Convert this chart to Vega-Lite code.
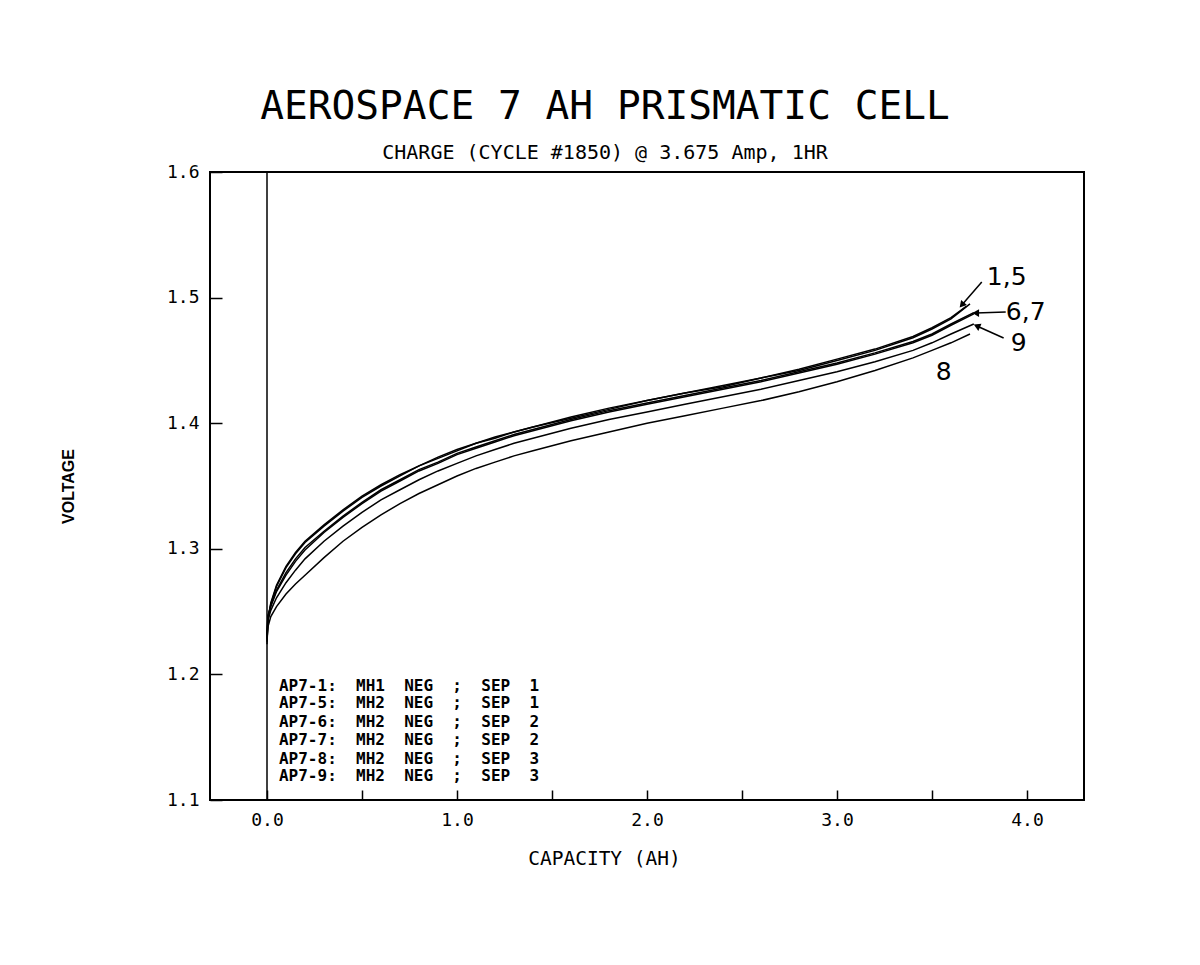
{
  "$schema": "https://vega.github.io/schema/vega-lite/v6.json",
  "width": 874,
  "height": 628,
  "autosize": {"type": "none"},
  "padding": {"left": 210, "top": 172, "right": 116, "bottom": 165},
  "background": "white",
  "title": {
    "text": "AEROSPACE 7 AH PRISMATIC CELL",
    "subtitle": "CHARGE (CYCLE #1850) @ 3.675 Amp, 1HR",
    "anchor": "middle",
    "dx": -42,
    "font": "DejaVu Sans Mono",
    "fontSize": 39.5,
    "fontWeight": "normal",
    "color": "black",
    "subtitleFont": "DejaVu Sans Mono",
    "subtitleFontSize": 20,
    "subtitleColor": "black",
    "subtitlePadding": 16,
    "offset": -1
  },
  "config": {
    "view": {"stroke": "black", "strokeWidth": 2},
    "axis": {"grid": false, "domain": false, "labelColor": "black", "titleColor": "black", "tickColor": "black"}
  },
  "datasets": {
    "curves": [
      {"cell": "AP7-1", "cap": 0, "v": 1.226}, {"cell": "AP7-1", "cap": 0.005, "v": 1.244}, {"cell": "AP7-1", "cap": 0.02, "v": 1.257}, {"cell": "AP7-1", "cap": 0.05, "v": 1.271}, {"cell": "AP7-1", "cap": 0.1, "v": 1.286}, {"cell": "AP7-1", "cap": 0.15, "v": 1.297}, {"cell": "AP7-1", "cap": 0.2, "v": 1.306}, {"cell": "AP7-1", "cap": 0.3, "v": 1.319}, {"cell": "AP7-1", "cap": 0.4, "v": 1.331}, {"cell": "AP7-1", "cap": 0.5, "v": 1.342}, {"cell": "AP7-1", "cap": 0.6, "v": 1.351}, {"cell": "AP7-1", "cap": 0.7, "v": 1.359}, {"cell": "AP7-1", "cap": 0.8, "v": 1.366}, {"cell": "AP7-1", "cap": 0.9, "v": 1.373}, {"cell": "AP7-1", "cap": 1.0, "v": 1.379}, {"cell": "AP7-1", "cap": 1.1, "v": 1.384}, {"cell": "AP7-1", "cap": 1.2, "v": 1.389}, {"cell": "AP7-1", "cap": 1.3, "v": 1.393}, {"cell": "AP7-1", "cap": 1.4, "v": 1.397}, {"cell": "AP7-1", "cap": 1.6, "v": 1.405}, {"cell": "AP7-1", "cap": 1.8, "v": 1.412}, {"cell": "AP7-1", "cap": 2.0, "v": 1.418}, {"cell": "AP7-1", "cap": 2.2, "v": 1.424}, {"cell": "AP7-1", "cap": 2.4, "v": 1.430}, {"cell": "AP7-1", "cap": 2.6, "v": 1.436}, {"cell": "AP7-1", "cap": 2.8, "v": 1.443}, {"cell": "AP7-1", "cap": 3.0, "v": 1.451}, {"cell": "AP7-1", "cap": 3.2, "v": 1.459}, {"cell": "AP7-1", "cap": 3.4, "v": 1.469}, {"cell": "AP7-1", "cap": 3.5, "v": 1.476}, {"cell": "AP7-1", "cap": 3.6, "v": 1.484}, {"cell": "AP7-1", "cap": 3.68, "v": 1.493},
      {"cell": "AP7-5", "cap": 0, "v": 1.224}, {"cell": "AP7-5", "cap": 0.005, "v": 1.243}, {"cell": "AP7-5", "cap": 0.02, "v": 1.256}, {"cell": "AP7-5", "cap": 0.05, "v": 1.270}, {"cell": "AP7-5", "cap": 0.1, "v": 1.285}, {"cell": "AP7-5", "cap": 0.15, "v": 1.296}, {"cell": "AP7-5", "cap": 0.2, "v": 1.305}, {"cell": "AP7-5", "cap": 0.3, "v": 1.318}, {"cell": "AP7-5", "cap": 0.4, "v": 1.330}, {"cell": "AP7-5", "cap": 0.5, "v": 1.341}, {"cell": "AP7-5", "cap": 0.6, "v": 1.350}, {"cell": "AP7-5", "cap": 0.7, "v": 1.358}, {"cell": "AP7-5", "cap": 0.8, "v": 1.366}, {"cell": "AP7-5", "cap": 0.9, "v": 1.372}, {"cell": "AP7-5", "cap": 1.0, "v": 1.378}, {"cell": "AP7-5", "cap": 1.1, "v": 1.384}, {"cell": "AP7-5", "cap": 1.2, "v": 1.388}, {"cell": "AP7-5", "cap": 1.3, "v": 1.393}, {"cell": "AP7-5", "cap": 1.4, "v": 1.397}, {"cell": "AP7-5", "cap": 1.6, "v": 1.404}, {"cell": "AP7-5", "cap": 1.8, "v": 1.411}, {"cell": "AP7-5", "cap": 2.0, "v": 1.418}, {"cell": "AP7-5", "cap": 2.2, "v": 1.424}, {"cell": "AP7-5", "cap": 2.4, "v": 1.429}, {"cell": "AP7-5", "cap": 2.6, "v": 1.436}, {"cell": "AP7-5", "cap": 2.8, "v": 1.442}, {"cell": "AP7-5", "cap": 3.0, "v": 1.450}, {"cell": "AP7-5", "cap": 3.2, "v": 1.458}, {"cell": "AP7-5", "cap": 3.4, "v": 1.468}, {"cell": "AP7-5", "cap": 3.5, "v": 1.475}, {"cell": "AP7-5", "cap": 3.6, "v": 1.483}, {"cell": "AP7-5", "cap": 3.7, "v": 1.495},
      {"cell": "AP7-6", "cap": 0, "v": 1.230}, {"cell": "AP7-6", "cap": 0.005, "v": 1.246}, {"cell": "AP7-6", "cap": 0.02, "v": 1.255}, {"cell": "AP7-6", "cap": 0.05, "v": 1.267}, {"cell": "AP7-6", "cap": 0.1, "v": 1.281}, {"cell": "AP7-6", "cap": 0.15, "v": 1.292}, {"cell": "AP7-6", "cap": 0.2, "v": 1.301}, {"cell": "AP7-6", "cap": 0.3, "v": 1.314}, {"cell": "AP7-6", "cap": 0.4, "v": 1.326}, {"cell": "AP7-6", "cap": 0.5, "v": 1.337}, {"cell": "AP7-6", "cap": 0.6, "v": 1.347}, {"cell": "AP7-6", "cap": 0.7, "v": 1.355}, {"cell": "AP7-6", "cap": 0.8, "v": 1.363}, {"cell": "AP7-6", "cap": 0.9, "v": 1.369}, {"cell": "AP7-6", "cap": 1.0, "v": 1.376}, {"cell": "AP7-6", "cap": 1.1, "v": 1.381}, {"cell": "AP7-6", "cap": 1.2, "v": 1.386}, {"cell": "AP7-6", "cap": 1.3, "v": 1.391}, {"cell": "AP7-6", "cap": 1.4, "v": 1.395}, {"cell": "AP7-6", "cap": 1.6, "v": 1.403}, {"cell": "AP7-6", "cap": 1.8, "v": 1.410}, {"cell": "AP7-6", "cap": 2.0, "v": 1.416}, {"cell": "AP7-6", "cap": 2.2, "v": 1.422}, {"cell": "AP7-6", "cap": 2.4, "v": 1.428}, {"cell": "AP7-6", "cap": 2.6, "v": 1.434}, {"cell": "AP7-6", "cap": 2.8, "v": 1.441}, {"cell": "AP7-6", "cap": 3.0, "v": 1.448}, {"cell": "AP7-6", "cap": 3.2, "v": 1.456}, {"cell": "AP7-6", "cap": 3.4, "v": 1.465}, {"cell": "AP7-6", "cap": 3.5, "v": 1.471}, {"cell": "AP7-6", "cap": 3.6, "v": 1.479}, {"cell": "AP7-6", "cap": 3.72, "v": 1.488},
      {"cell": "AP7-7", "cap": 0, "v": 1.232}, {"cell": "AP7-7", "cap": 0.005, "v": 1.247}, {"cell": "AP7-7", "cap": 0.02, "v": 1.254}, {"cell": "AP7-7", "cap": 0.05, "v": 1.266}, {"cell": "AP7-7", "cap": 0.1, "v": 1.279}, {"cell": "AP7-7", "cap": 0.15, "v": 1.290}, {"cell": "AP7-7", "cap": 0.2, "v": 1.299}, {"cell": "AP7-7", "cap": 0.3, "v": 1.313}, {"cell": "AP7-7", "cap": 0.4, "v": 1.325}, {"cell": "AP7-7", "cap": 0.5, "v": 1.336}, {"cell": "AP7-7", "cap": 0.6, "v": 1.346}, {"cell": "AP7-7", "cap": 0.7, "v": 1.354}, {"cell": "AP7-7", "cap": 0.8, "v": 1.362}, {"cell": "AP7-7", "cap": 0.9, "v": 1.368}, {"cell": "AP7-7", "cap": 1.0, "v": 1.375}, {"cell": "AP7-7", "cap": 1.1, "v": 1.380}, {"cell": "AP7-7", "cap": 1.2, "v": 1.385}, {"cell": "AP7-7", "cap": 1.3, "v": 1.390}, {"cell": "AP7-7", "cap": 1.4, "v": 1.394}, {"cell": "AP7-7", "cap": 1.6, "v": 1.402}, {"cell": "AP7-7", "cap": 1.8, "v": 1.409}, {"cell": "AP7-7", "cap": 2.0, "v": 1.415}, {"cell": "AP7-7", "cap": 2.2, "v": 1.421}, {"cell": "AP7-7", "cap": 2.4, "v": 1.427}, {"cell": "AP7-7", "cap": 2.6, "v": 1.433}, {"cell": "AP7-7", "cap": 2.8, "v": 1.440}, {"cell": "AP7-7", "cap": 3.0, "v": 1.447}, {"cell": "AP7-7", "cap": 3.2, "v": 1.455}, {"cell": "AP7-7", "cap": 3.4, "v": 1.464}, {"cell": "AP7-7", "cap": 3.5, "v": 1.470}, {"cell": "AP7-7", "cap": 3.6, "v": 1.478}, {"cell": "AP7-7", "cap": 3.72, "v": 1.487},
      {"cell": "AP7-9", "cap": 0, "v": 1.229}, {"cell": "AP7-9", "cap": 0.005, "v": 1.243}, {"cell": "AP7-9", "cap": 0.02, "v": 1.251}, {"cell": "AP7-9", "cap": 0.05, "v": 1.261}, {"cell": "AP7-9", "cap": 0.1, "v": 1.273}, {"cell": "AP7-9", "cap": 0.15, "v": 1.283}, {"cell": "AP7-9", "cap": 0.2, "v": 1.292}, {"cell": "AP7-9", "cap": 0.3, "v": 1.306}, {"cell": "AP7-9", "cap": 0.4, "v": 1.318}, {"cell": "AP7-9", "cap": 0.5, "v": 1.329}, {"cell": "AP7-9", "cap": 0.6, "v": 1.339}, {"cell": "AP7-9", "cap": 0.7, "v": 1.347}, {"cell": "AP7-9", "cap": 0.8, "v": 1.355}, {"cell": "AP7-9", "cap": 0.9, "v": 1.362}, {"cell": "AP7-9", "cap": 1.0, "v": 1.368}, {"cell": "AP7-9", "cap": 1.1, "v": 1.374}, {"cell": "AP7-9", "cap": 1.2, "v": 1.379}, {"cell": "AP7-9", "cap": 1.3, "v": 1.384}, {"cell": "AP7-9", "cap": 1.4, "v": 1.388}, {"cell": "AP7-9", "cap": 1.6, "v": 1.396}, {"cell": "AP7-9", "cap": 1.8, "v": 1.403}, {"cell": "AP7-9", "cap": 2.0, "v": 1.409}, {"cell": "AP7-9", "cap": 2.2, "v": 1.415}, {"cell": "AP7-9", "cap": 2.4, "v": 1.421}, {"cell": "AP7-9", "cap": 2.6, "v": 1.427}, {"cell": "AP7-9", "cap": 2.8, "v": 1.434}, {"cell": "AP7-9", "cap": 3.0, "v": 1.441}, {"cell": "AP7-9", "cap": 3.2, "v": 1.449}, {"cell": "AP7-9", "cap": 3.4, "v": 1.458}, {"cell": "AP7-9", "cap": 3.5, "v": 1.464}, {"cell": "AP7-9", "cap": 3.6, "v": 1.471}, {"cell": "AP7-9", "cap": 3.72, "v": 1.479},
      {"cell": "AP7-8", "cap": 0, "v": 1.228}, {"cell": "AP7-8", "cap": 0.005, "v": 1.238}, {"cell": "AP7-8", "cap": 0.02, "v": 1.246}, {"cell": "AP7-8", "cap": 0.05, "v": 1.254}, {"cell": "AP7-8", "cap": 0.1, "v": 1.264}, {"cell": "AP7-8", "cap": 0.15, "v": 1.272}, {"cell": "AP7-8", "cap": 0.2, "v": 1.279}, {"cell": "AP7-8", "cap": 0.3, "v": 1.293}, {"cell": "AP7-8", "cap": 0.4, "v": 1.306}, {"cell": "AP7-8", "cap": 0.5, "v": 1.317}, {"cell": "AP7-8", "cap": 0.6, "v": 1.327}, {"cell": "AP7-8", "cap": 0.7, "v": 1.336}, {"cell": "AP7-8", "cap": 0.8, "v": 1.344}, {"cell": "AP7-8", "cap": 0.9, "v": 1.351}, {"cell": "AP7-8", "cap": 1.0, "v": 1.358}, {"cell": "AP7-8", "cap": 1.1, "v": 1.364}, {"cell": "AP7-8", "cap": 1.2, "v": 1.369}, {"cell": "AP7-8", "cap": 1.3, "v": 1.374}, {"cell": "AP7-8", "cap": 1.4, "v": 1.378}, {"cell": "AP7-8", "cap": 1.6, "v": 1.386}, {"cell": "AP7-8", "cap": 1.8, "v": 1.393}, {"cell": "AP7-8", "cap": 2.0, "v": 1.400}, {"cell": "AP7-8", "cap": 2.2, "v": 1.406}, {"cell": "AP7-8", "cap": 2.4, "v": 1.412}, {"cell": "AP7-8", "cap": 2.6, "v": 1.418}, {"cell": "AP7-8", "cap": 2.8, "v": 1.425}, {"cell": "AP7-8", "cap": 3.0, "v": 1.433}, {"cell": "AP7-8", "cap": 3.2, "v": 1.442}, {"cell": "AP7-8", "cap": 3.4, "v": 1.452}, {"cell": "AP7-8", "cap": 3.5, "v": 1.458}, {"cell": "AP7-8", "cap": 3.6, "v": 1.464}, {"cell": "AP7-8", "cap": 3.7, "v": 1.471}
    ],
    "legend": [
      {"cap": 0.063, "v": 1.191, "label": "AP7-1:\u00a0\u00a0MH1\u00a0\u00a0NEG\u00a0\u00a0;\u00a0\u00a0SEP\u00a0\u00a01"},
      {"cap": 0.063, "v": 1.177, "label": "AP7-5:\u00a0\u00a0MH2\u00a0\u00a0NEG\u00a0\u00a0;\u00a0\u00a0SEP\u00a0\u00a01"},
      {"cap": 0.063, "v": 1.162, "label": "AP7-6:\u00a0\u00a0MH2\u00a0\u00a0NEG\u00a0\u00a0;\u00a0\u00a0SEP\u00a0\u00a02"},
      {"cap": 0.063, "v": 1.148, "label": "AP7-7:\u00a0\u00a0MH2\u00a0\u00a0NEG\u00a0\u00a0;\u00a0\u00a0SEP\u00a0\u00a02"},
      {"cap": 0.063, "v": 1.133, "label": "AP7-8:\u00a0\u00a0MH2\u00a0\u00a0NEG\u00a0\u00a0;\u00a0\u00a0SEP\u00a0\u00a03"},
      {"cap": 0.063, "v": 1.119, "label": "AP7-9:\u00a0\u00a0MH2\u00a0\u00a0NEG\u00a0\u00a0;\u00a0\u00a0SEP\u00a0\u00a03"}
    ],
    "annot": [
      {"cap": 3.893, "v": 1.5164, "label": "1,5"},
      {"cap": 3.993, "v": 1.4885, "label": "6,7"},
      {"cap": 3.956, "v": 1.4639, "label": "9"},
      {"cap": 3.562, "v": 1.4408, "label": "8"}
    ],
    "arrows": [
      {"id": "a15", "cap": 3.762, "v": 1.5124, "cap2": 3.657, "v2": 1.4941},
      {"id": "a67", "cap": 3.888, "v": 1.4885, "cap2": 3.730, "v2": 1.4877},
      {"id": "a9", "cap": 3.877, "v": 1.4678, "cap2": 3.736, "v2": 1.4774}
    ]
  },
  "layer": [
    {
      "data": {"name": "curves"},
      "mark": {"type": "line", "color": "black", "strokeWidth": 1.5},
      "encoding": {
        "x": {
          "field": "cap", "type": "quantitative",
          "scale": {"domain": [-0.3, 4.3], "nice": false, "zero": false},
          "axis": {
            "title": "CAPACITY (AH)",
            "values": [0, 0.5, 1, 1.5, 2, 2.5, 3, 3.5, 4],
            "labelExpr": "datum.value % 1 == 0 ? format(datum.value, '.1f') : ''",
            "tickSize": -10, "tickWidth": 1.5,
            "labelPadding": 21,
            "labelFont": "DejaVu Sans Mono", "labelFontSize": 18,
            "labelFlush": false, "labelOverlap": false,
            "titleFont": "DejaVu Sans Mono", "titleFontSize": 19.5, "titleFontWeight": "normal",
            "titleX": 394, "titleY": 58, "titleAlign": "center", "titleBaseline": "middle"
          }
        },
        "y": {
          "field": "v", "type": "quantitative",
          "scale": {"domain": [1.1, 1.6], "nice": false, "zero": false},
          "axis": {
            "title": "VOLTAGE",
            "values": [1.1, 1.2, 1.3, 1.4, 1.5, 1.6],
            "format": ".1f",
            "tickSize": -12, "tickWidth": 1.5,
            "labelPadding": 23,
            "labelFont": "DejaVu Sans Mono", "labelFontSize": 18,
            "labelFlush": false, "labelOverlap": false,
            "titleFont": "Liberation Sans", "titleFontSize": 16, "titleFontWeight": "bold",
            "titleAngle": 270, "titleX": -142, "titleY": 314, "titleAlign": "center", "titleBaseline": "middle"
          }
        },
        "detail": {"field": "cell"}
      }
    },
    {
      "data": {"values": [{"cap": 0}]},
      "mark": {"type": "rule", "color": "black", "strokeWidth": 1.5},
      "encoding": {
        "x": {"field": "cap", "type": "quantitative"}
      }
    },
    {
      "data": {"name": "legend"},
      "mark": {"type": "text", "align": "left", "baseline": "middle", "font": "DejaVu Sans Mono", "fontSize": 16, "fontWeight": "bold", "color": "black"},
      "encoding": {
        "x": {"field": "cap", "type": "quantitative"},
        "y": {"field": "v", "type": "quantitative"},
        "text": {"field": "label"}
      }
    },
    {
      "data": {"name": "annot"},
      "mark": {"type": "text", "align": "center", "baseline": "middle", "font": "DejaVu Sans", "fontSize": 25, "color": "black"},
      "encoding": {
        "x": {"field": "cap", "type": "quantitative"},
        "y": {"field": "v", "type": "quantitative"},
        "text": {"field": "label"}
      }
    },
    {
      "data": {"name": "arrows"},
      "mark": {"type": "rule", "color": "black", "strokeWidth": 1.5},
      "encoding": {
        "x": {"field": "cap", "type": "quantitative"},
        "y": {"field": "v", "type": "quantitative"},
        "x2": {"field": "cap2"},
        "y2": {"field": "v2"}
      }
    },
    {
      "data": {"name": "arrows"},
      "transform": [{"filter": "datum.id == 'a15'"}],
      "mark": {"type": "point", "shape": "triangle-up", "filled": true, "color": "black", "size": 60, "angle": 221, "opacity": 1},
      "encoding": {
        "x": {"field": "cap2", "type": "quantitative"},
        "y": {"field": "v2", "type": "quantitative"}
      }
    },
    {
      "data": {"name": "arrows"},
      "transform": [{"filter": "datum.id == 'a67'"}],
      "mark": {"type": "point", "shape": "triangle-up", "filled": true, "color": "black", "size": 60, "angle": 270, "opacity": 1},
      "encoding": {
        "x": {"field": "cap2", "type": "quantitative"},
        "y": {"field": "v2", "type": "quantitative"}
      }
    },
    {
      "data": {"name": "arrows"},
      "transform": [{"filter": "datum.id == 'a9'"}],
      "mark": {"type": "point", "shape": "triangle-up", "filled": true, "color": "black", "size": 60, "angle": 294, "opacity": 1},
      "encoding": {
        "x": {"field": "cap2", "type": "quantitative"},
        "y": {"field": "v2", "type": "quantitative"}
      }
    }
  ]
}
